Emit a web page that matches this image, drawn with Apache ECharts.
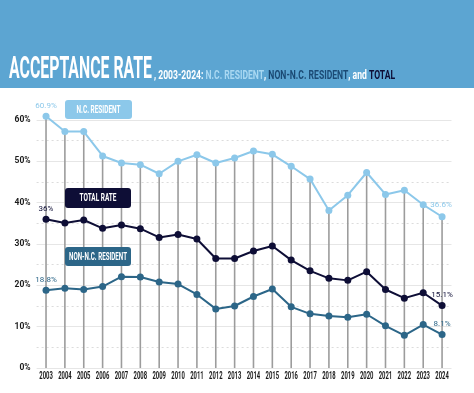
<!DOCTYPE html>
<html><head><meta charset="utf-8">
<script src="https://cdn.jsdelivr.net/npm/echarts@6/dist/echarts.min.js"></script>
<style>html,body{margin:0;padding:0;background:#fff}#c{width:474px;height:393px}</style>
</head><body><div id="c"></div>
<script>
var years = ['2003','2004','2005','2006','2007','2008','2009','2010','2011','2012','2013','2014','2015','2016','2017','2018','2019','2020','2021','2022','2023','2024'];
var ncResident = [60.9,57.2,57.2,51.3,49.6,49.2,47.0,50.0,51.6,49.6,50.8,52.5,51.7,48.8,45.7,38.1,41.8,47.3,42.0,43.0,39.5,36.6];
var totalRate = [36.0,35.1,35.8,33.8,34.6,33.7,31.6,32.3,31.2,26.5,26.5,28.3,29.5,26.1,23.5,21.7,21.2,23.3,19.0,16.9,18.2,15.1];
var nonNcResident = [18.8,19.3,19.0,19.7,22.1,22.0,20.8,20.3,17.8,14.3,15.0,17.3,19.1,14.8,13.1,12.6,12.3,13.0,10.2,7.9,10.5,8.1];
var yTicks = [0,10,20,30,40,50,60];

var FONT = 'Roboto, "Liberation Sans", sans-serif';
var C_NC = '#8CC8EA', C_TOT = '#0E0E36', C_NON = '#2C6688';

var mctx = document.createElement('canvas').getContext('2d');
function fit(text, font, target) { mctx.font = font; return target / mctx.measureText(text).width; }

function endLabels(arr, first, last, color, offLast) {
  return arr.map(function(v, i){
    var o = {value: v};
    if (i === 0) o.label = {show:true, formatter:first, position:'top', color:color, fontSize:8, fontFamily:FONT, distance:3};
    if (i === arr.length-1) o.label = {show:true, formatter:last, position:'top', color:color, fontSize:8, fontFamily:FONT, distance:3, offset:offLast || [0,0]};
    return o;
  });
}

var titleFont = 'bold 31px ' + FONT;
var subFont = 'bold 13px ' + FONT;
var subPlain = ', 2003-2024: N.C. RESIDENT, NON-N.C. RESIDENT, and TOTAL';
var boxFont = 'bold 10px ' + FONT;
var yearFont = 'bold 10px ' + FONT;
var yearScale = fit('2003', yearFont, 13.5);

function box(x, y, w, h, fill, text, tw) {
  return [
    {type:'rect', shape:{x:x,y:y,width:w,height:h,r:3}, style:{fill:fill}, z:10},
    {type:'text', x:x + w/2, y:y + h/2 + 0.5, scaleX:fit(text, boxFont, tw), style:{text:text, fill:'#fff', font:boxFont, align:'center', verticalAlign:'middle'}, z:11}
  ];
}

var chart = echarts.init(document.getElementById('c'), null, {renderer:'canvas'});
chart.setOption({
  animation:false,
  backgroundColor:'#fff',
  graphic:[
    {type:'rect', shape:{x:0,y:0,width:474,height:88}, style:{fill:'#5CA5D2'}, z:0},
    {type:'text', x:9, y:70.5, scaleX:fit('ACCEPTANCE RATE', titleFont, 143), style:{text:'ACCEPTANCE RATE', fill:'#fff', font:titleFont, verticalAlign:'middle'}, z:5},
    {type:'text', x:154, y:76, scaleX:fit(subPlain, subFont, 239), z:5, style:{
      verticalAlign:'middle',
      text:'{w|, 2003-2024: }{l|N.C. RESIDENT}{w|, }{d|NON-N.C. RESIDENT}{w|, and }{t|TOTAL}',
      rich:{
        w:{fill:'#fff', font:subFont},
        l:{fill:'#A9D8F2', font:subFont},
        d:{fill:'#1B4A74', font:subFont},
        t:{fill:'#0E0E36', font:subFont}
      }}}
  ].concat(
    box(65,100,67,19,C_NC,'N.C. RESIDENT',44),
    box(65,188,66,20,C_TOT,'TOTAL RATE',37),
    box(65,247,66,19,C_NON,'NON-N.C. RESIDENT',58)
  ),
  grid:{left:36.6, right:22.5, top:120, bottom:25, containLabel:false},
  xAxis:{type:'category', data:years, boundaryGap:true,
    axisLine:{show:false}, axisTick:{show:false}, axisLabel:{show:false}},
  yAxis:{type:'value', min:0, max:60, interval:10,
    axisLine:{show:false}, axisTick:{show:false},
    axisLabel:{formatter:function(v){return yTicks.indexOf(v)>=0 ? v+'%' : '';}, color:'#1a1a1a', fontFamily:FONT, fontWeight:'bold', fontSize:8.5, margin:6},
    splitLine:{lineStyle:{color:'#e6e6e6', width:1}},
    minorTick:{show:false, splitNumber:2},
    minorSplitLine:{show:true, lineStyle:{color:'#dcdcdc', type:[2,3], width:1}}},
  series:[
    {type:'bar', data:ncResident, barWidth:1.6, itemStyle:{color:'#9c9c9c'}, z:1, silent:true, clip:false},
    {type:'line', clip:false, data:endLabels(ncResident,'60.9%','36.6%',C_NC,[-1,-1]), symbol:'circle', symbolSize:7, lineStyle:{color:C_NC,width:2}, itemStyle:{color:C_NC}, z:3},
    {type:'line', clip:false, data:endLabels(totalRate,'36%','15.1%',C_TOT), symbol:'circle', symbolSize:7, lineStyle:{color:C_TOT,width:2}, itemStyle:{color:C_TOT}, z:3},
    {type:'line', clip:false, data:endLabels(nonNcResident,'18.8%','8.1%',C_NON), symbol:'circle', symbolSize:7, lineStyle:{color:C_NON,width:2}, itemStyle:{color:C_NON}, z:3},
    {type:'custom', silent:true, clip:false, z:5,
      data: years.map(function(y, i){ return [i, 0]; }),
      renderItem:function(params, api){
        var p = api.coord([api.value(0), 0]);
        return {type:'text', x:p[0], y:p[1] + 8.5, scaleX:yearScale,
          style:{text:years[params.dataIndex], font:yearFont, fill:'#1a1a1a', align:'center', verticalAlign:'middle'}};
      }}
  ]
});
</script></body></html>
